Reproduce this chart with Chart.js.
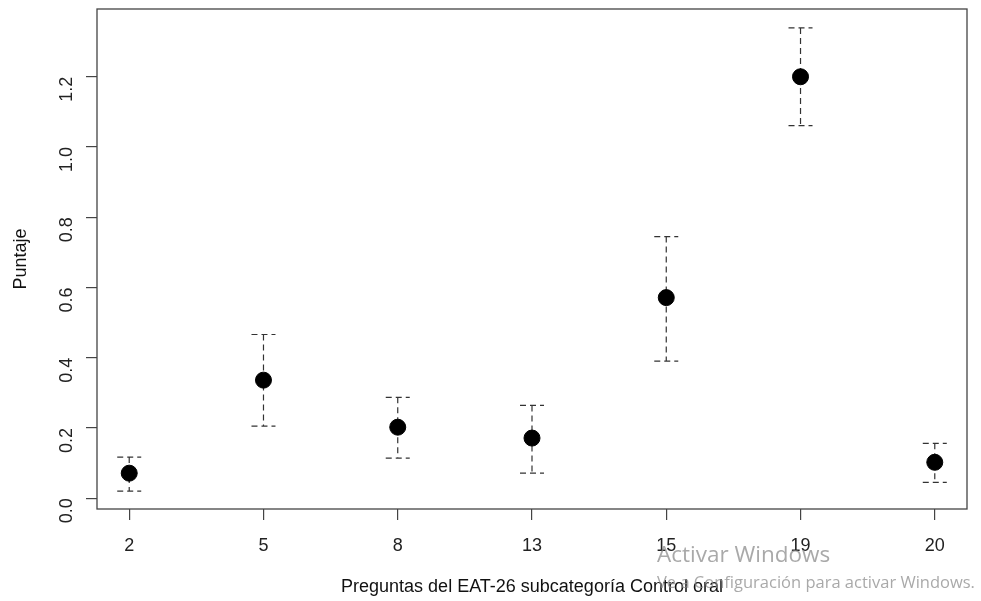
<!DOCTYPE html>
<html>
<head>
<meta charset="utf-8">
<script src="https://cdn.jsdelivr.net/npm/chart.js@4.4.1/dist/chart.umd.min.js"></script>
<style>
  html, body { margin: 0; padding: 0; background: #fff; }
  #wrap { width: 981px; height: 601px; }
</style>
</head>
<body>
<div id="wrap"><canvas id="grafico" width="981" height="601"></canvas></div>
<script>
// Datos
const preguntas = ["2", "5", "8", "13", "15", "19", "20"];
const puntaje = [0.071, 0.336, 0.202, 0.171, 0.571, 1.200, 0.102];
const limiteInf = [0.020, 0.205, 0.114, 0.071, 0.390, 1.061, 0.045];
const limiteSup = [0.117, 0.466, 0.287, 0.264, 0.745, 1.339, 0.156];
const ticksY = [0, 0.2, 0.4, 0.6, 0.8, 1.0, 1.2];

const puntos = puntaje.map((v, i) => ({ x: i + 1, y: v }));

// Caja y barras de error estilo R
const estiloR = {
    id: 'estiloR',
    beforeDatasetsDraw(chart) {
        const ctx = chart.ctx;
        const xs = chart.scales.x, ys = chart.scales.y;
        ctx.save();
        ctx.strokeStyle = '#333';
        ctx.lineWidth = 1.2;
        ctx.setLineDash([6, 4]);
        puntos.forEach((p, i) => {
            const px = xs.getPixelForValue(p.x);
            const yl = ys.getPixelForValue(limiteInf[i]);
            const yu = ys.getPixelForValue(limiteSup[i]);
            ctx.beginPath();
            ctx.moveTo(px, yu); ctx.lineTo(px, yl);
            ctx.moveTo(px - 12, yu); ctx.lineTo(px + 12, yu);
            ctx.moveTo(px - 12, yl); ctx.lineTo(px + 12, yl);
            ctx.stroke();
        });
        ctx.restore();
    },
    afterDatasetsDraw(chart) {
        const ctx = chart.ctx;
        const area = chart.chartArea;
        ctx.save();
        ctx.strokeStyle = '#444';
        ctx.lineWidth = 1.3;
        ctx.strokeRect(area.left, area.top, area.right - area.left, area.bottom - area.top);
        ctx.restore();
    },
    afterDraw(chart) {
        // marca de agua
        const ctx = chart.ctx;
        ctx.save();
        ctx.fillStyle = 'rgba(140,140,140,0.75)';
        ctx.textBaseline = 'alphabetic';
        ctx.font = '22.5px "Open Sans"';
        ctx.fillText('Activar Windows', 657, 562);
        ctx.font = '16.5px "Open Sans"';
        ctx.fillText('Ve a Configuración para activar Windows.', 657, 588);
        ctx.restore();
    }
};

const ctx = document.getElementById('grafico').getContext('2d');
new Chart(ctx, {
    type: 'scatter',
    data: {
        datasets: [{
            data: puntos,
            backgroundColor: '#000',
            borderColor: '#000',
            pointRadius: 8,
            pointHoverRadius: 8
        }]
    },
    options: {
        responsive: false,
        animation: false,
        events: [],
        layout: { padding: { top: 8, right: 14, left: 0, bottom: 0 } },
        plugins: { legend: { display: false }, tooltip: { enabled: false } },
        scales: {
            x: {
                type: 'linear',
                min: 0.76,
                max: 7.24,
                afterBuildTicks: s => { s.ticks = preguntas.map((_, i) => ({ value: i + 1 })); },
                afterFit: s => { s.height = 92; s.paddingLeft = 0; s.paddingRight = 0; },
                grid: { drawOnChartArea: false, color: '#444', tickLength: 11, lineWidth: 1.2 },
                border: { display: false },
                ticks: {
                    color: '#222',
                    font: { family: 'Liberation Sans', size: 18 },
                    padding: 15,
                    maxRotation: 0,
                    callback: (v) => preguntas[Math.round(v) - 1]
                },
                title: {
                    display: true,
                    text: 'Preguntas del EAT-26 subcategoría Control oral',
                    color: '#111',
                    font: { family: 'Liberation Sans', size: 18 },
                    padding: { top: 0, bottom: 3 }
                }
            },
            y: {
                min: -0.031,
                max: 1.393,
                afterBuildTicks: s => { s.ticks = ticksY.map(v => ({ value: v })); },
                afterFit: s => { s.width = 97; s.paddingTop = 0; s.paddingBottom = 0; },
                grid: { drawOnChartArea: false, color: '#444', tickLength: 11, lineWidth: 1.2 },
                border: { display: false },
                ticks: {
                    color: '#222',
                    font: { family: 'Liberation Sans', size: 18 },
                    padding: 19,
                    minRotation: 90,
                    maxRotation: 90,
                    callback: v => v.toFixed(1)
                },
                title: {
                    display: true,
                    text: 'Puntaje',
                    color: '#111',
                    font: { family: 'Liberation Sans', size: 18 },
                    padding: { top: 10, bottom: 0 }
                }
            }
        }
    },
    plugins: [estiloR]
});
</script>
</body>
</html>
